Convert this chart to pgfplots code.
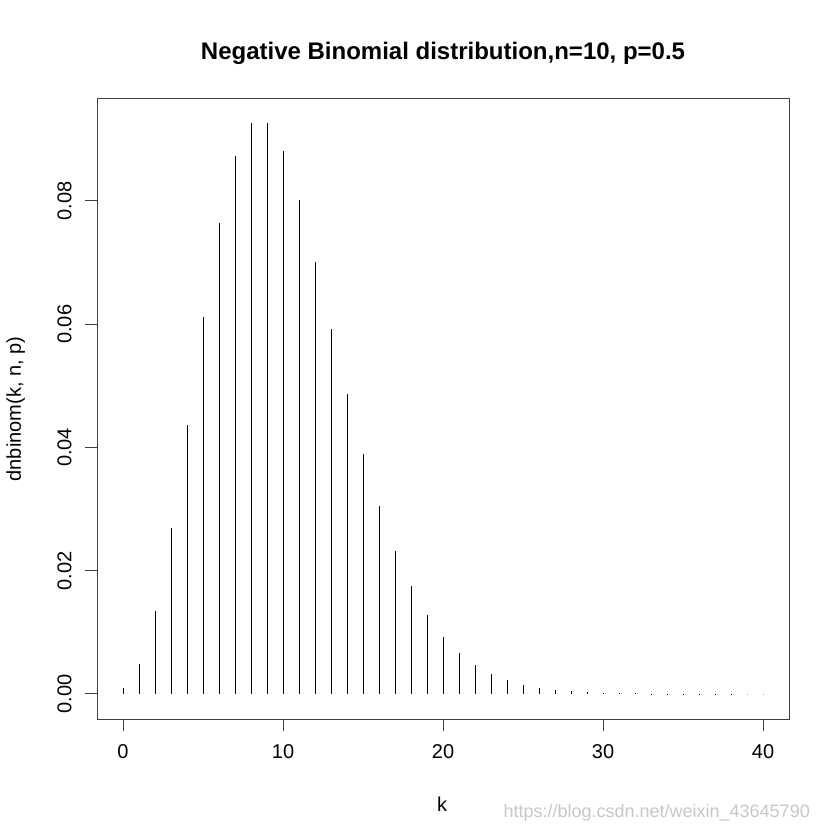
\documentclass[border=0pt]{standalone}
\usepackage{pgfplots}
\pgfplotsset{compat=1.18}
\usepackage{fontspec}
\setmainfont{Liberation Sans}
\begin{document}
\begin{tikzpicture}
\useasboundingbox (-97bp,-111bp) rectangle (724bp,719bp);
\begin{axis}[
  at={(0,0)}, anchor=south west,
  scale only axis, width=692bp, height=620bp,
  xmin=-1.625, xmax=41.625, ymin=-0.00406, ymax=0.09655,
  axis line style={draw=black!75, line width=1bp},
  tick align=outside, tick pos=left,
  major tick length=12bp,
  tick style={black!75, line width=1bp},
  xtick={0,10,20,30,40},
  ytick={0,0.02,0.04,0.06,0.08},
  scaled y ticks=false,
  xticklabel shift=10bp, yticklabel shift=10bp,
  /pgf/number format/assume math mode=true,
  tick label style={font=\fontsize{20bp}{24bp}\selectfont},
  yticklabel style={rotate=90, anchor=south, /pgf/number format/.cd, fixed, fixed zerofill, precision=2},
  clip=false,
]
\addplot[ycomb, black, line width=1bp] table {
x y
0 0.0009765625
1 0.0048828
2 0.013428
3 0.026855
4 0.043640
5 0.061096
6 0.076370
7 0.087280
8 0.092735
9 0.092735
10 0.088098
11 0.080090
12 0.070078
13 0.059297
14 0.048708
15 0.038966
16 0.030442
17 0.023280
18 0.017460
19 0.012865
20 0.0093272
21 0.0066623
22 0.0046939
23 0.0032653
24 0.0022449
25 0.0015265
26 0.0010275
27 0.00068499
28 0.00045258
29 0.00029652
30 0.00019274
31 0.00012435
32 0.00007966
33 0.00005069
34 0.00003206
35 0.00002015
36 0.00001259
37 0.00000783
38 0.00000484
39 0.00000298
40 0.00000182
};
\end{axis}
\node[anchor=base, font=\fontsize{24bp}{28bp}\selectfont\bfseries] at (346bp,659bp) {Negative Binomial distribution,n=10, p=0.5};
\node[anchor=base, font=\fontsize{20bp}{24bp}\selectfont] at (345bp,-92bp) {k};
\node[anchor=base, rotate=90, font=\fontsize{20bp}{24bp}\selectfont] at (-76bp,310bp) {dnbinom(k, n, p)};
\node[anchor=base east, inner sep=0pt, text=black!22, font=\fontsize{18bp}{22bp}\selectfont] at (713bp,-98bp) {https://blog.csdn.net/weixin\_43645790};
\end{tikzpicture}
\end{document}
